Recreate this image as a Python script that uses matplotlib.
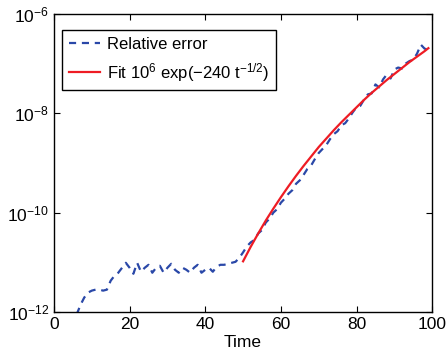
import numpy as np
import matplotlib
matplotlib.use("Agg")
import matplotlib.pyplot as plt
from matplotlib.ticker import FixedLocator, LogFormatterMathtext, NullLocator

# Relative error (log10), one value per time step
err_t = list(range(6, 100))
err_log10 = [
    -12.05, -11.86, -11.71, -11.61, -11.57, -11.55, -11.55, -11.57, -11.55,  # 6-14
    -11.37, -11.27, -11.21, -11.11, -11.01, -11.11, -11.23, -11.01, -11.19,  # 15-23
    -11.11, -11.05, -11.21, -11.11, -11.07, -11.21, -11.11, -11.03, -11.15,  # 24-32
    -11.21, -11.11, -11.15, -11.21, -11.11, -11.05, -11.21, -11.15, -11.11,  # 33-41
    -11.19, -11.09, -11.05, -11.05, -11.03, -11.01, -10.99, -10.91,          # 42-49
    -10.80, -10.68, -10.60, -10.55, -10.42, -10.35, -10.20, -10.12, -10.00,  # 50-58
    -9.93, -9.80, -9.72, -9.62, -9.55, -9.42, -9.35, -9.24, -9.12,           # 59-67
    -9.05, -8.92, -8.80, -8.72, -8.64, -8.52, -8.42, -8.36, -8.24,           # 68-76
    -8.20, -8.10, -7.98, -7.88, -7.85, -7.72, -7.62, -7.60, -7.42,           # 77-85
    -7.48, -7.32, -7.22, -7.30, -7.12, -7.08, -7.10, -7.00, -6.95,           # 86-94
    -6.92, -6.80, -6.62, -6.70, -6.72,                                       # 95-99
]

# Fit curve (log10)
fit_t = [50, 52, 54, 56, 58, 60, 62, 64, 66, 68, 70, 72, 74,
         76, 78, 80, 82, 84, 86, 88, 90, 92, 94, 96, 98, 99]
fit_log10 = [-10.98, -10.69, -10.42, -10.16, -9.92, -9.69, -9.47, -9.26, -9.06,
             -8.87, -8.68, -8.51, -8.34, -8.18, -8.03, -7.88, -7.73, -7.59,
             -7.46, -7.33, -7.21, -7.09, -6.97, -6.86, -6.75, -6.69]

plt.rcParams["font.family"] = ["Liberation Sans", "DejaVu Sans"]
plt.rcParams["mathtext.fontset"] = "custom"
plt.rcParams["mathtext.rm"] = "Liberation Sans"
plt.rcParams["mathtext.it"] = "Liberation Sans"

fig = plt.figure(figsize=(4.46, 3.56), dpi=100)
ax = fig.add_axes([0.121, 0.1236, 0.848, 0.8374])

err_vals = 10.0 ** np.array(err_log10)
fit_vals = 10.0 ** np.array(fit_log10)

ax.plot(err_t, err_vals, color="#2a48a8", lw=1.6, ls=(0, (3.2, 2.6)),
        label="Relative error")
ax.plot(fit_t, fit_vals, color="#ee1c24", lw=1.6,
        label=r"Fit 10$^{6}$ exp($-$240 t$^{-1/2}$)")

ax.set_yscale("log")
ax.set_xlim(0, 100)
ax.set_ylim(1e-12, 1e-6)
ax.set_xticks([0, 20, 40, 60, 80, 100])
ax.yaxis.set_major_locator(FixedLocator([1e-12, 1e-10, 1e-8, 1e-6]))
ax.yaxis.set_major_formatter(LogFormatterMathtext())
ax.yaxis.set_minor_locator(NullLocator())
ax.tick_params(direction="in", top=True, right=True, labelsize=12.5, length=4, width=0.8)
for s in ax.spines.values():
    s.set_linewidth(1.0)

ax.set_xlabel("Time", fontsize=12.5, labelpad=2.5)

leg = ax.legend(loc="upper left", bbox_to_anchor=(0.021, 0.946), borderaxespad=0,
                fontsize=12, fancybox=False, framealpha=1, edgecolor="black",
                handlelength=1.9, handletextpad=0.4, borderpad=0.4,
                labelspacing=0.55)
leg.get_frame().set_linewidth(1.0)

fig.savefig("out.png", dpi=100)
